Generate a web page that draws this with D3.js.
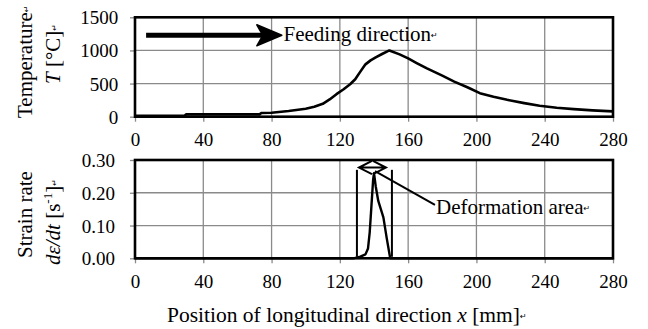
<!DOCTYPE html>
<html>
<head>
<meta charset="utf-8">
<script src="https://cdn.jsdelivr.net/npm/d3@7"></script>
<style>
  html, body { margin: 0; padding: 0; background: #fff; }
  svg { display: block; }
  svg text { font-family: "Liberation Serif", "Times New Roman", Tinos, "Nimbus Roman", "DejaVu Serif", serif !important; fill: #000; }
  svg text tspan.mark { font-family: "DejaVu Sans", sans-serif !important; font-size: 8px; }
</style>
</head>
<body>
<svg id="chart" width="648" height="329"></svg>
<script>
// Temperature along the longitudinal position (mm → °C)
const tempX = [0, 29, 30, 73, 74, 80, 90, 100, 105, 110, 114, 118, 122, 126, 129, 132, 135, 138, 141, 145, 149,
               155, 160, 165, 171, 180, 187, 195, 202, 210, 218, 228, 237, 247, 257, 268, 280];
const tempT = [15, 15, 35, 35, 55, 60, 85, 120, 150, 195, 260, 340, 410, 490, 565, 680, 790, 850, 895, 950, 1000,
               940, 880, 810, 730, 620, 530, 440, 355, 300, 255, 205, 165, 135, 115, 95, 80];

// Strain rate along the longitudinal position (mm → 1/s)
const strainX = [0, 128, 132, 135, 136.5, 137.5, 138.5, 139.5, 140, 141, 142.5, 144, 145.5, 147.5, 149.5, 150, 280];
const strainR = [0, 0, 0.005, 0.012, 0.03, 0.08, 0.16, 0.24, 0.26, 0.22, 0.175, 0.15, 0.125, 0.06, 0, 0, 0];

// Axis ticks
const xTicks = [0, 40, 80, 120, 160, 200, 240, 280];
const tempTicks = [0, 500, 1000, 1500];
const strainTicks = [0, 0.1, 0.2, 0.3];

// Annotation anchors, in data units
const feedArrow = { x0: 6.5, x1: 86, t: 1229, labelX: 87, labelT: 1146 };
const deformBounds = [130, 150.5];
const deformTop = 0.27;
const deformArrow = { x0: 131.2, x1: 147, r: 0.277 };
const deformLeader = { x0: 140.6, r0: 0.266, x1: 175.7, r1: 0.163, labelX: 176.3, labelR: 0.135 };

const svg = d3.select("#chart");
const left = 135, right = 613;

const x = d3.scaleLinear().domain([0, 280]).range([left, right]);
const yT = d3.scaleLinear().domain([0, 1500]).range([116.7, 17.3]);
const yS = d3.scaleLinear().domain([0, 0.3]).range([258.3, 160]);

const gridColor = "#8a8a8a";

function panel(y, yTicks, fmt, labelEnd) {
  const g = svg.append("g");
  const [y0, y1] = y.range();
  // grid
  g.selectAll("line.vg").data(xTicks.slice(1, -1)).join("line")
    .attr("x1", d => x(d)).attr("x2", d => x(d))
    .attr("y1", y1).attr("y2", y0)
    .attr("stroke", gridColor).attr("stroke-width", 1.3);
  g.selectAll("line.hg").data(yTicks.slice(1, -1)).join("line")
    .attr("x1", left).attr("x2", right)
    .attr("y1", d => y(d)).attr("y2", d => y(d))
    .attr("stroke", gridColor).attr("stroke-width", 1.3);
  // x axis
  const ax = g.append("g").attr("transform", `translate(0,${y0})`)
    .call(d3.axisBottom(x).tickValues(xTicks).tickSizeInner(5).tickSizeOuter(0).tickFormat(d3.format("d")));
  ax.attr("font-family", null);
  ax.select(".domain").remove();
  ax.selectAll(".tick line").attr("stroke", gridColor).attr("stroke-width", 1.3);
  ax.selectAll(".tick text").attr("y", 29.7).attr("dy", null).style("font-size", "19px");
  // y axis
  const ay = g.append("g").attr("transform", `translate(${left},0)`)
    .call(d3.axisLeft(y).tickValues(yTicks).tickSizeInner(5).tickSizeOuter(0).tickFormat(fmt));
  ay.attr("font-family", null);
  ay.select(".domain").remove();
  ay.selectAll(".tick line").attr("stroke", gridColor).attr("stroke-width", 1.3);
  ay.selectAll(".tick text").attr("x", -(left - labelEnd)).attr("dy", "0.34em").style("font-size", "19px");
  return g;
}

const gTop = panel(yT, tempTicks, d3.format("d"), 118.3);
const gBot = panel(yS, strainTicks, d3.format(".2f"), 115);

// temperature curve
const tempData = tempX.map((d, i) => [d, tempT[i]]);
gTop.append("path").datum(tempData)
  .attr("fill", "none").attr("stroke", "#000").attr("stroke-width", 2.6)
  .attr("stroke-linejoin", "round")
  .attr("d", d3.line().x(d => x(d[0])).y(d => yT(d[1])));

// strain rate curve
const strainData = strainX.map((d, i) => [d, strainR[i]]);
gBot.append("path").datum(strainData)
  .attr("fill", "none").attr("stroke", "#000").attr("stroke-width", 2.4)
  .attr("stroke-linejoin", "round")
  .attr("d", d3.line().x(d => x(d[0])).y(d => yS(d[1])));

// plot frames
[yT, yS].forEach(y => {
  const [y0, y1] = y.range();
  svg.append("rect").attr("x", left).attr("y", y1)
    .attr("width", right - left).attr("height", y0 - y1)
    .attr("fill", "none").attr("stroke", "#000").attr("stroke-width", 2.6);
});

function mark(t) {
  t.append("tspan").attr("class", "mark").text("\u21B5").attr("dy", "-3");
}

// feeding direction arrow
{
  const ax0 = x(feedArrow.x0), ax1 = x(feedArrow.x1), ay = yT(feedArrow.t);
  svg.append("line").attr("x1", ax0).attr("x2", ax1 - 16).attr("y1", ay).attr("y2", ay)
    .attr("stroke", "#000").attr("stroke-width", 5);
  svg.append("path")
    .attr("d", `M${ax1},${ay} L${ax1 - 25},${ay - 10.5} L${ax1 - 19},${ay} L${ax1 - 25},${ay + 10.5} Z`)
    .attr("fill", "#000").attr("stroke", "#000").attr("stroke-width", 1.5).attr("stroke-linejoin", "round");
  const t = svg.append("text").attr("x", x(feedArrow.labelX)).attr("y", yT(feedArrow.labelT))
    .style("font-size", "21px");
  t.append("tspan").text("Feeding direction");
  mark(t);
}

// deformation area markers
{
  deformBounds.forEach(b => {
    svg.append("line").attr("x1", x(b)).attr("x2", x(b))
      .attr("y1", yS(deformTop)).attr("y2", yS(0) - 1.5)
      .attr("stroke", "#000").attr("stroke-width", 2);
  });
  const a0 = x(deformArrow.x0), a1 = x(deformArrow.x1), ay = yS(deformArrow.r);
  const hl = 13, hw = 6.6;
  svg.append("path")
    .attr("d", `M${a0},${ay} L${a1},${ay}` +
               ` M${a0 + hl},${ay - hw} L${a0},${ay} L${a0 + hl},${ay + hw}` +
               ` M${a1 - hl},${ay - hw} L${a1},${ay} L${a1 - hl},${ay + hw}`)
    .attr("fill", "none").attr("stroke", "#000").attr("stroke-width", 2);
  svg.append("line")
    .attr("x1", x(deformLeader.x0)).attr("y1", yS(deformLeader.r0))
    .attr("x2", x(deformLeader.x1)).attr("y2", yS(deformLeader.r1))
    .attr("stroke", "#000").attr("stroke-width", 2);
  const t = svg.append("text").attr("x", x(deformLeader.labelX)).attr("y", yS(deformLeader.labelR))
    .style("font-size", "21px");
  t.append("tspan").text("Deformation area");
  mark(t);
}

// axis titles
function vtext(xPos, yPos, parts, withMark) {
  const t = svg.append("text").attr("transform", `translate(${xPos},${yPos}) rotate(-90)`)
    .style("font-size", "21px");
  parts.forEach(p => {
    const s = t.append("tspan").text(p.text);
    if (p.italic) s.style("font-style", "italic");
    if (p.size) s.style("font-size", p.size);
    if (p.dy) s.attr("dy", p.dy);
  });
  if (withMark) mark(t);
  return t;
}

vtext(32, 118, [{ text: "Temperature" }], true);
vtext(60, 84, [{ text: "T", italic: true }, { text: " [°C]" }], true);
vtext(32, 258, [{ text: "Strain rate" }], false);
vtext(60, 265, [
  { text: "d\u03B5/dt", italic: true },
  { text: "  [s" },
  { text: "-1", size: "13px", dy: "-8" },
  { text: "]", dy: "8" }
], true);

{
  const t = svg.append("text").attr("x", 167).attr("y", 322).style("font-size", "21.5px");
  t.append("tspan").text("Position of longitudinal direction ");
  t.append("tspan").text("x").style("font-style", "italic");
  t.append("tspan").text(" [mm]");
  mark(t);
}
</script>
</body>
</html>
